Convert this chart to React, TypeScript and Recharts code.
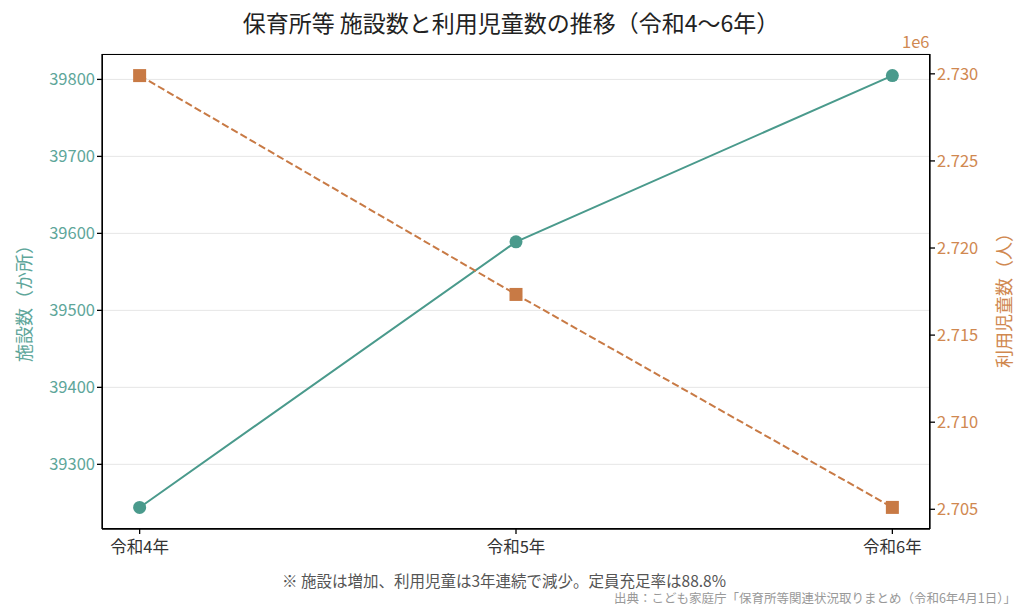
import { LineChart, Line, XAxis, YAxis, CartesianGrid } from "recharts";

const years = ["令和4年", "令和5年", "令和6年"];
const facilities = [39244, 39589, 39805];
const children = [2729899, 2717335, 2705108];
const leftTicks = [39300, 39400, 39500, 39600, 39700, 39800];
const rightTicks = [2705000, 2710000, 2715000, 2720000, 2725000, 2730000];

const GREEN = "#4a9a8c";
const ORANGE = "#c87a45";
const FONT = "'Noto Sans CJK JP', 'Noto Sans', sans-serif";

const data = years.map((y, i) => ({ idx: i, year: y, facilities: facilities[i], children: children[i] }));

const SquareDot = (props: any) => {
  const { cx, cy } = props;
  if (cx == null || cy == null) return null;
  return <rect x={cx - 6.5} y={cy - 6.5} width={13} height={13} fill={ORANGE} />;
};

export default function App() {
  return (
    <div style={{ position: "absolute", left: 0, top: 0, width: 1036, height: 606, background: "#fff", fontFamily: FONT }}>
      <LineChart width={1036} height={606} data={data} margin={{ top: 54, right: 0, bottom: 47, left: 0 }}>
        <CartesianGrid yAxisId="left" vertical={false} stroke="#e6e6e6" />
        <XAxis
          dataKey="idx" type="number" domain={[-0.1, 2.1]} ticks={[0, 1, 2]}
          tickFormatter={(v) => years[v]} height={30} tickSize={5} tickMargin={7}
          stroke="#000" strokeWidth={1.3}
          tick={{ fill: "#333", fontSize: 16.5, fontFamily: FONT }}
        />
        <YAxis
          yAxisId="left" orientation="left" width={102} domain={[39216, 39833]}
          ticks={leftTicks} allowDataOverflow tickSize={5} stroke="#000" strokeWidth={1.3}
          tick={{ fill: "#5ea69a", fontSize: 16.5, fontFamily: FONT }}
        />
        <YAxis
          yAxisId="right" orientation="right" width={106} domain={[2703868, 2731139]}
          ticks={rightTicks} allowDataOverflow tickSize={5} stroke="#000" strokeWidth={1.3}
          tickFormatter={(v) => (v / 1e6).toFixed(3)}
          tick={{ fill: "#d08850", fontSize: 16.5, fontFamily: FONT }}
        />
        <Line yAxisId="left" dataKey="facilities" stroke={GREEN} strokeWidth={2}
          dot={{ r: 6.5, fill: GREEN, stroke: GREEN, strokeWidth: 0 }} isAnimationActive={false} />
        <Line yAxisId="right" dataKey="children" stroke={ORANGE} strokeWidth={2} strokeDasharray="7.4 3.2"
          dot={<SquareDot />} isAnimationActive={false} />
      </LineChart>
      <div style={{ position: "absolute", left: 102, top: 54, width: 828, height: 475, border: "1.3px solid #000", boxSizing: "border-box", pointerEvents: "none" }} />
      <div style={{ position: "absolute", left: 0, width: 1022, top: 5, textAlign: "center", fontSize: 23, color: "#222" }}>
        保育所等 施設数と利用児童数の推移（令和4〜6年）
      </div>
      <div style={{ position: "absolute", left: 902, top: 29, fontSize: 16.5, color: "#d08850" }}>1e6</div>
      <div style={{ position: "absolute", left: 23, top: 299, transform: "translate(-50%, -50%) rotate(-90deg)", whiteSpace: "nowrap", fontSize: 18, color: "#5ea69a" }}>
        施設数（か所）
      </div>
      <div style={{ position: "absolute", left: 1003, top: 296, transform: "translate(-50%, -50%) rotate(-90deg)", whiteSpace: "nowrap", fontSize: 18, color: "#d08850" }}>
        利用児童数（人）
      </div>
      <div style={{ position: "absolute", left: 282, top: 569, fontSize: 15.5, color: "#555", whiteSpace: "nowrap" }}>
        ※ 施設は増加、利用児童は3年連続で減少。定員充足率は88.8%
      </div>
      <div style={{ position: "absolute", right: 20, top: 588, fontSize: 12.5, color: "#999", whiteSpace: "nowrap" }}>
        出典：こども家庭庁「保育所等関連状況取りまとめ（令和6年4月1日）」
      </div>
    </div>
  );
}
